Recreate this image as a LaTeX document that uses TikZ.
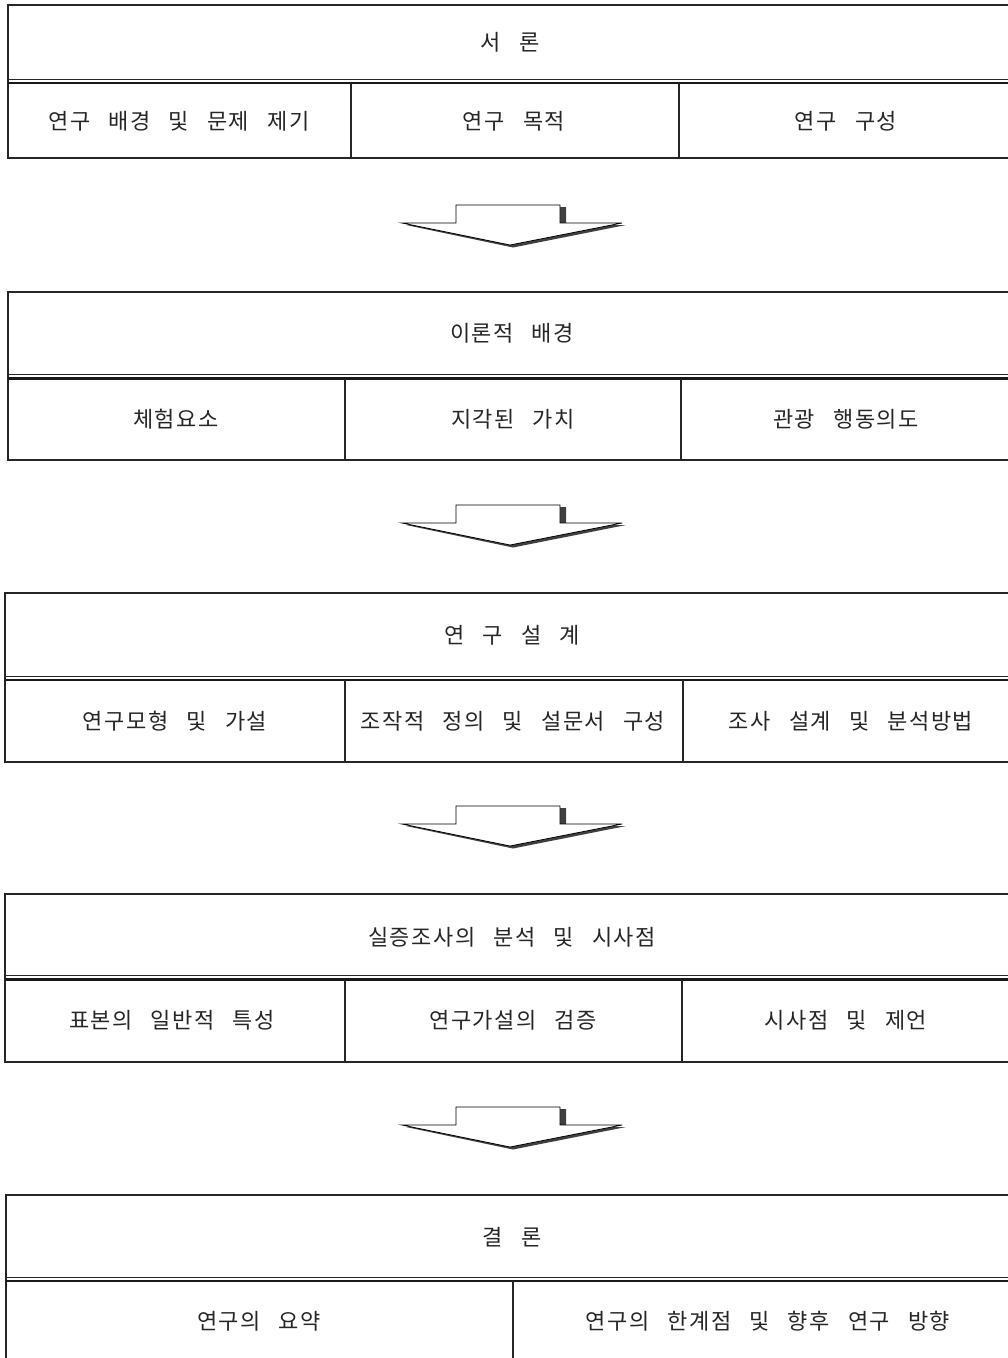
\documentclass[tikz,border=0pt]{standalone}
\usepackage{fontspec}
\newfontfamily\kr[WordSpace=2.8,LetterSpace=7]{Noto Sans CJK KR}
\begin{document}
\begin{tikzpicture}[x=1pt,y=-1pt,
  frame/.style={draw=black!85, line width=1.3pt},
  thinline/.style={draw=black!85, line width=1pt},
  thickline/.style={draw=black!90, line width=2.2pt},
  lbl/.style={font=\kr\fontsize{22}{26}\selectfont, text=black!85, inner sep=0pt, anchor=center},
  arrowbody/.style={fill=white, draw=black, line width=0.8pt, line join=miter},
  arrowshadow/.style={fill=black!75, draw=none}]
\useasboundingbox (0,0) rectangle (1008,1358);
\clip (0,0) rectangle (1008,1358);

% ---------- Box 1 ----------
\draw[frame] (8,5) rectangle (1015,158);
\draw[thinline] (8,79) -- (1015,79);
\draw[thickline] (8,83) -- (1015,83);
\draw[frame] (351,83) -- (351,158);
\draw[frame] (679,83) -- (679,158);
\node[lbl] (t1) at (510,42) {서 론};
\node[lbl] (t1a) at (179,121) {연구 배경 및 문제 제기};
\node[lbl] (t1b) at (514,121) {연구 목적};
\node[lbl] (t1c) at (846,121) {연구 구성};

% ---------- Box 2 ----------
\draw[frame] (8,292) rectangle (1015,460);
\draw[thinline] (8,374) -- (1015,374);
\draw[thickline] (8,378.5) -- (1015,378.5);
\draw[frame] (345,378.5) -- (345,460);
\draw[frame] (681,378.5) -- (681,460);
\node[lbl] (t2) at (512,333) {이론적 배경};
\node[lbl] (t2a) at (176,419) {체험요소};
\node[lbl] (t2b) at (513,419) {지각된 가치};
\node[lbl] (t2c) at (846,419) {관광 행동의도};

% ---------- Box 3 ----------
\draw[frame] (5,593) rectangle (1015,762);
\draw[thinline] (5,676) -- (1015,676);
\draw[thickline] (5,680) -- (1015,680);
\draw[frame] (345,680) -- (345,762);
\draw[frame] (683,680) -- (683,762);
\node[lbl] (t3) at (512,635) {연 구 설 계};
\node[lbl] (t3a) at (175,721) {연구모형 및 가설};
\node[lbl] (t3b) at (513,721) {조작적 정의 및 설문서 구성};
\node[lbl] (t3c) at (851,721) {조사 설계 및 분석방법};

% ---------- Box 4 ----------
\draw[frame] (5,894) rectangle (1015,1062);
\draw[thinline] (5,975.5) -- (1015,975.5);
\draw[thickline] (5,979.5) -- (1015,979.5);
\draw[frame] (345,979.5) -- (345,1062);
\draw[frame] (682,979.5) -- (682,1062);
\node[lbl] (t4) at (512,937) {실증조사의 분석 및 시사점};
\node[lbl] (t4a) at (172,1020) {표본의 일반적 특성};
\node[lbl] (t4b) at (513,1020) {연구가설의 검증};
\node[lbl] (t4c) at (846,1020) {시사점 및 제언};

% ---------- Box 5 ----------
\draw[frame] (6,1195) rectangle (1015,1400);
\draw[thinline] (6,1277) -- (1015,1277);
\draw[thickline] (6,1281) -- (1015,1281);
\draw[frame] (513,1281) -- (513,1400);
\node[lbl] (t5) at (512,1237) {결 론};
\node[lbl] (t5a) at (259,1321) {연구의 요약};
\node[lbl] (t5b) at (768,1321) {연구의 한계점 및 향후 연구 방향};

% ---------- Block arrows ----------
\foreach \s in {205,505,806,1107}{
  \fill[arrowshadow] (406,{\s+20}) -- (461,{\s+20}) -- (461,{\s+2}) -- (566,{\s+2})
     -- (566,{\s+20}) -- (626,{\s+20}) -- (513,{\s+42.5}) -- cycle;
  \draw[arrowbody] (402,{\s+18}) -- (456,{\s+18}) -- (456,\s) -- (560,\s)
     -- (560,{\s+18}) -- (622,{\s+18}) -- (510,{\s+40}) -- cycle;
}
\end{tikzpicture}
\end{document}
